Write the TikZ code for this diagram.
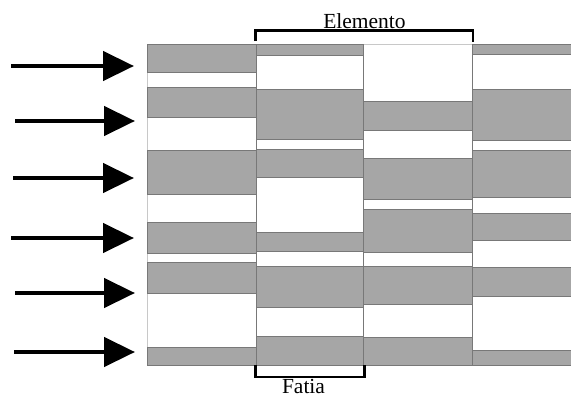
\documentclass[tikz,border=0pt]{standalone}
\usepackage{fontspec}
\setmainfont{Liberation Serif}
\usetikzlibrary{arrows.meta}
\definecolor{bandgray}{RGB}{166,166,166}
\definecolor{banddark}{RGB}{120,120,120}
\definecolor{bandlight}{RGB}{200,200,200}
\tikzset{
  whiteband/.style={fill=white,draw=bandlight,line width=0.7pt},
  grayband/.style={fill=bandgray,draw=banddark,line width=0.8pt},
  bigarrow/.style={line width=4.5pt,-{Triangle[length=31pt,width=29pt]}},
  bracketline/.style={line width=2.3pt,line cap=butt,line join=miter},
  lbl/.style={font=\fontsize{21.5}{24}\selectfont,inner sep=0pt,anchor=base}
}
\begin{document}
\begin{tikzpicture}[x=1pt,y=-1pt]
\useasboundingbox (0,0) rectangle (571,397);
% column backgrounds
\foreach \xa/\xb in {147/256,256/363,363/472,472/571}{
  \draw[whiteband] (\xa,44) rectangle (\xb,365);
}
% gray bands
\foreach \ya/\yb in {44/72,87/117,150/194,222/253,262/293,347/365}{
  \draw[grayband] (147,\ya) rectangle (256,\yb);}
\foreach \ya/\yb in {44/55,89/139,149/177,232/251,266/307,336/365}{
  \draw[grayband] (256,\ya) rectangle (363,\yb);}
\foreach \ya/\yb in {101/130,158/199,209/252,266/304,337/365}{
  \draw[grayband] (363,\ya) rectangle (472,\yb);}
\foreach \ya/\yb in {44/54,89/140,150/197,213/240,267/296,350/365}{
  \draw[grayband] (472,\ya) rectangle (571.5,\yb);}
% column separators
\draw[banddark,line width=0.8pt] (256,44) -- (256,365);
\draw[banddark,line width=0.8pt] (363,44) -- (363,365);
\draw[banddark,line width=0.8pt] (472,44) -- (472,365);
% arrows
\coordinate (s1) at (11,66);  \coordinate (e1) at (134,66);
\coordinate (s2) at (15,121); \coordinate (e2) at (135,121);
\coordinate (s3) at (13,178); \coordinate (e3) at (134,178);
\coordinate (s4) at (11,238); \coordinate (e4) at (134,238);
\coordinate (s5) at (15,293); \coordinate (e5) at (135,293);
\coordinate (s6) at (14,352); \coordinate (e6) at (135,352);
\foreach \i in {1,...,6}{\draw[bigarrow] (s\i) -- (e\i);}
% brackets
\coordinate (t1) at (255.5,41); \coordinate (t2) at (255.5,30.5);
\coordinate (t3) at (473,30.5); \coordinate (t4) at (473,42);
\draw[bracketline] (t1) -- (t2) -- (t3) -- (t4);
\coordinate (b1) at (255.5,365); \coordinate (b2) at (255.5,377);
\coordinate (b3) at (364.5,377); \coordinate (b4) at (364.5,365);
\draw[bracketline] (b1) -- (b2) -- (b3) -- (b4);
\node[lbl] (elemento) at (364.5,28) {Elemento};
\node[lbl] (fatia) at (303.5,393) {Fatia};
\end{tikzpicture}
\end{document}
